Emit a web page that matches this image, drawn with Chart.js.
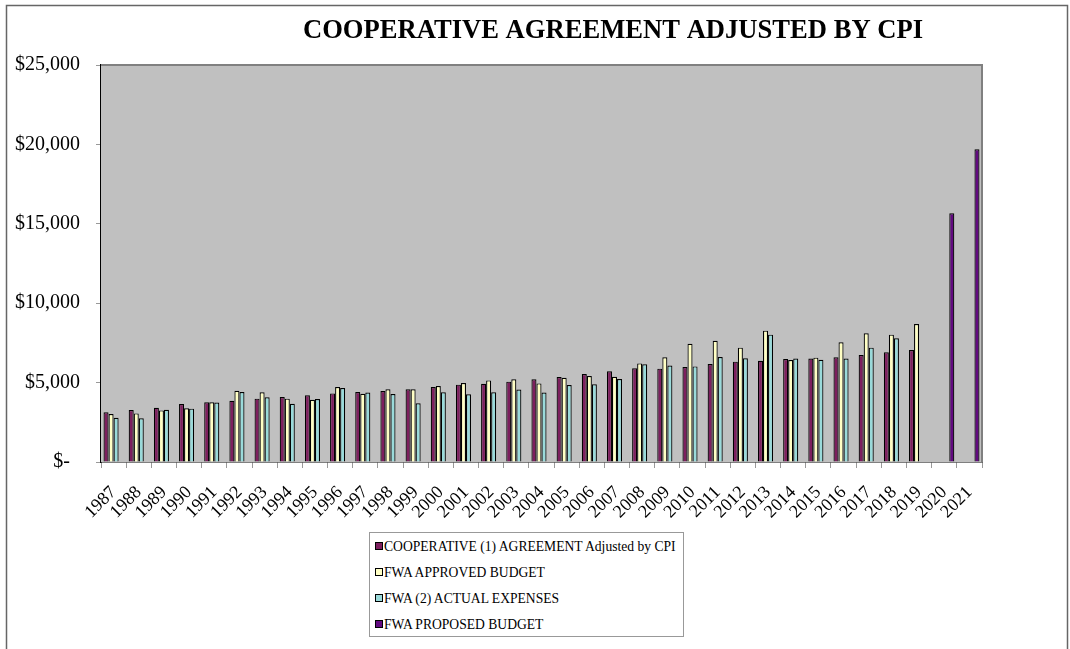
<!DOCTYPE html>
<html>
<head>
<meta charset="utf-8">
<title>Cooperative Agreement Adjusted by CPI</title>
<script src="https://cdn.jsdelivr.net/npm/chart.js@4.4.1/dist/chart.umd.min.js"></script>
<style>
  html, body { margin: 0; padding: 0; background: #fff; }
  #wrap { position: relative; width: 1070px; height: 649px; overflow: hidden; }
  #legend {
    position: absolute; left: 369px; top: 532px; width: 313px; height: 103px;
    border: 1px solid #999; background: #fff; box-sizing: content-box;
    font-family: "Liberation Serif", "Times New Roman", serif; font-size: 13.6px; color: #000;
  }
  #legend .item { position: absolute; left: 5px; height: 16px; line-height: 16px; white-space: nowrap; }
  #legend .box {
    display: inline-block; width: 6px; height: 6px; border: 1px solid #000;
    margin-right: 1px; vertical-align: 1px;
  }
</style>
</head>
<body>
<div id="wrap">
  <canvas id="myChart" width="1070" height="649"></canvas>
  <div id="legend"></div>
</div>
<script>
// fiscal years on the category axis
const years = ['1987', '1988', '1989', '1990', '1991', '1992', '1993', '1994', '1995',
  '1996', '1997', '1998', '1999', '2000', '2001', '2002', '2003', '2004', '2005',
  '2006', '2007', '2008', '2009', '2010', '2011', '2012', '2013', '2014', '2015',
  '2016', '2017', '2018', '2019', '2020', '2021'];

// dollars per year
const cooperative = [3130, 3270, 3420, 3650, 3760, 3860, 3990, 4090, 4200,
  4320, 4410, 4470, 4580, 4720, 4870, 4930, 5060, 5210, 5350,
  5540, 5710, 5900, 5880, 5980, 6170, 6320, 6380, 6490, 6510,
  6590, 6740, 6910, 7050, null, null];

const approved = [3020, 3060, 3250, 3380, 3760, 4490, 4390, 3990, 3920,
  4720, 4300, 4580, 4580, 4790, 4970, 5140, 5210, 4950, 5310,
  5420, 5370, 6210, 6590, 7450, 7640, 7200, 8270, 6420, 6570,
  7540, 8100, 8020, 8690, null, null];

const actual = [2790, 2750, 3290, 3360, 3740, 4410, 4070, 3670, 3970,
  4660, 4370, 4280, 3700, 4390, 4260, 4390, 4560, 4370, 4850,
  4890, 5230, 6150, 6070, 6020, 6610, 6530, 8020, 6510, 6440,
  6510, 7200, 7790, null, null, null];

const proposed = [null, null, null, null, null, null, null, null, null,
  null, null, null, null, null, null, null, null, null, null,
  null, null, null, null, null, null, null, null, null, null,
  null, null, null, null, 15660, 19690];

const seriesNames = ['COOPERATIVE (1) AGREEMENT Adjusted by CPI', 'FWA APPROVED BUDGET',
  'FWA (2) ACTUAL EXPENSES', 'FWA PROPOSED BUDGET'];
const yTicks = [0, 5000, 10000, 15000, 20000, 25000];

const serif = '"Liberation Serif", "Times New Roman", serif';

// grey plot background, frame lines, outer border and the title
const framePlugin = {
  id: 'frame',
  beforeDatasetsDraw(chart) {
    const { ctx, chartArea: a } = chart;
    ctx.save();
    ctx.fillStyle = '#c0c0c0';
    ctx.fillRect(a.left, a.top, a.right - a.left, a.bottom - a.top);
    ctx.strokeStyle = '#808080';
    ctx.lineWidth = 2;
    ctx.beginPath();
    ctx.moveTo(a.left, a.top);
    ctx.lineTo(a.right, a.top);
    ctx.lineTo(a.right, a.bottom);
    ctx.stroke();
    ctx.restore();
  },
  afterDraw(chart) {
    const ctx = chart.ctx;
    ctx.save();
    ctx.strokeStyle = '#666';
    ctx.lineWidth = 1.5;
    ctx.strokeRect(6.5, 5.5, 1061, 700);
    ctx.fillStyle = '#000';
    ctx.font = 'bold 26.6px ' + serif;
    ctx.textAlign = 'center';
    ctx.textBaseline = 'alphabetic';
    ctx.fillText('COOPERATIVE AGREEMENT ADJUSTED BY CPI', 613, 38);
    ctx.restore();
  }
};

function money(v) {
  if (v === 0) return '$-  ';
  return '$' + v.toLocaleString('en-US');
}

const ctx = document.getElementById('myChart').getContext('2d');
const chart = new Chart(ctx, {
  type: 'bar',
  data: {
    labels: years,
    datasets: [
      { label: seriesNames[0], data: cooperative, backgroundColor: '#7d1f5e' },
      { label: seriesNames[1], data: approved, backgroundColor: '#ffffc4' },
      { label: seriesNames[2], data: actual, backgroundColor: '#9adada' },
      { label: seriesNames[3], data: proposed, backgroundColor: '#620a80' }
    ]
  },
  options: {
    responsive: false,
    animation: false,
    layout: { padding: { left: 6, top: 65, right: 88, bottom: 0 } },
    datasets: {
      bar: { borderColor: '#000', borderWidth: 1.2, categoryPercentage: 0.8, barPercentage: 1.0 }
    },
    plugins: {
      legend: { display: false },
      title: { display: false },
      tooltip: { enabled: false }
    },
    scales: {
      x: {
        grid: { drawOnChartArea: false, drawTicks: true, tickLength: 6, color: '#999', offset: true },
        border: { color: '#000', width: 1.5 },
        ticks: {
          autoSkip: false, minRotation: 45, maxRotation: 45, padding: 14,
          color: '#000', font: { family: serif, size: 18 }
        },
        afterFit(scale) { scale.height = 187; }
      },
      y: {
        min: 0, max: 25000,
        afterBuildTicks(scale) { scale.ticks = yTicks.map(v => ({ value: v })); },
        grid: { drawOnChartArea: false, drawTicks: true, tickLength: 5, color: '#999' },
        border: { color: '#000', width: 1.5 },
        ticks: {
          padding: 16, color: '#000', font: { family: serif, size: 20 },
          callback: v => money(v)
        },
        afterFit(scale) { scale.width = 95; }
      }
    }
  },
  plugins: [framePlugin]
});

// legend box built from the chart's own datasets
const legend = document.getElementById('legend');
chart.data.datasets.forEach((ds, i) => {
  const item = document.createElement('div');
  item.className = 'item';
  item.style.top = (6 + i * 26) + 'px';
  const box = document.createElement('span');
  box.className = 'box';
  box.style.background = ds.backgroundColor;
  item.appendChild(box);
  item.appendChild(document.createTextNode(ds.label));
  legend.appendChild(item);
});
</script>
</body>
</html>
